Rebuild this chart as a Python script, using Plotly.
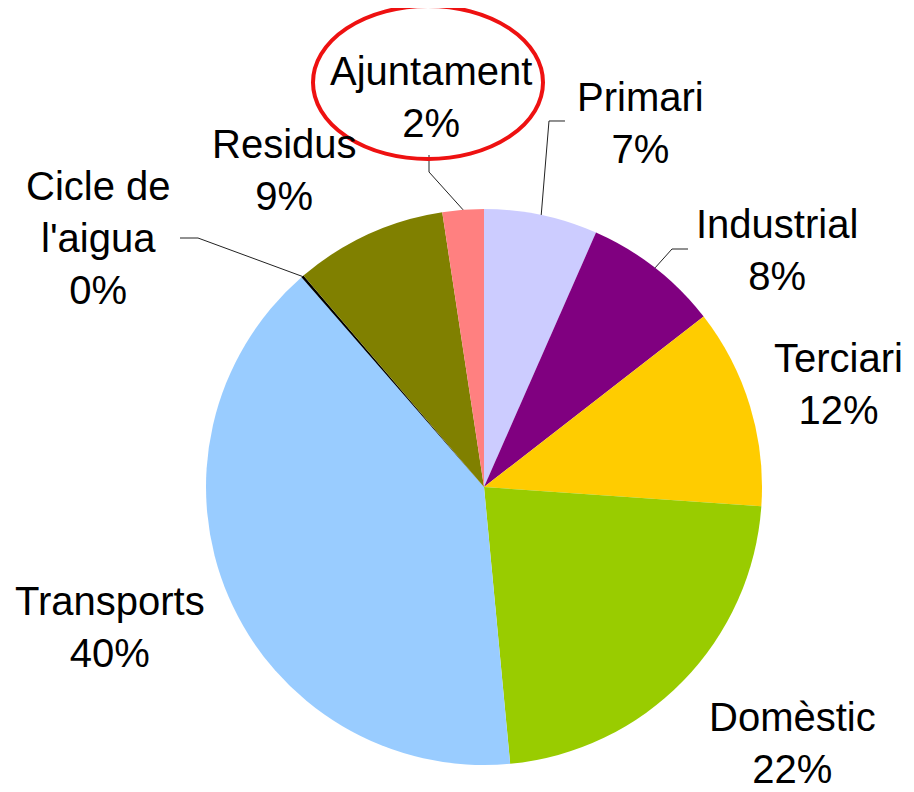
import math
import textwrap
import plotly.graph_objects as go

# ---- data ----
labels = ["Primari", "Industrial", "Terciari", "Domèstic", "Transports",
          "Cicle de l'aigua", "Residus", "Ajuntament"]
values = [6.6, 7.9, 11.6, 22.4, 40.1, 0.15, 8.85, 2.4]
colors = ["#CCCCFF", "#800080", "#FFCC00", "#99CC00", "#99CCFF",
          "#000000", "#808000", "#FF8080"]

# ---- layout constants (pixels in the 914x792 page) ----
PAGE_W, PAGE_H = 914, 792
OFF = 8                      # default body margin of the html page
W, H = PAGE_W - OFF, PAGE_H - OFF
CX, CY, R = 484, 487, 278
FONT = dict(family="Liberation Sans, Arial, sans-serif", size=40, color="black")

# label block centres (layout placement, page pixels)
label_pos = {
    "Primari": (640, 123),
    "Industrial": (777, 250),
    "Terciari": (838, 384),
    "Domèstic": (792, 743),
    "Transports": (110, 627),
    "Cicle de l'aigua": (98, 238),
    "Residus": (284, 170),
    "Ajuntament": (431, 97),
}
# leader line elbow points for labels that have them
leaders = {
    "Ajuntament": [(429, 155), (429, 172)],
    "Primari": [(565, 121), (549, 121)],
    "Industrial": [(688, 249), (672, 249)],
    "Cicle de l'aigua": [(180, 238), (198, 238)],
}


def px(x, y):
    """page pixel -> paper coordinate"""
    return (x - OFF) / W, 1 - (y - OFF) / H


dx0, dy1 = px(CX - R, CY - R)
dx1, dy0 = px(CX + R, CY + R)

fig = go.Figure(go.Pie(
    labels=labels, values=values, sort=False, direction="clockwise",
    rotation=0, marker=dict(colors=colors, line=dict(width=0)),
    textinfo="none", textposition="none", hoverinfo="label+percent",
    showlegend=False,
    domain=dict(x=[dx0, dx1], y=[dy0, dy1]),
))

total = sum(values)
annotations = []
shapes = []
cum = 0.0
for lab, v in zip(labels, values):
    frac = v / total
    mid = (cum + frac / 2) * 2 * math.pi
    cum += frac
    pct = round(frac * 100)
    text = "<br>".join(textwrap.wrap(lab, 10)) + f"<br>{pct}%"
    lx, ly = px(*label_pos[lab])
    annotations.append(dict(text=text, x=lx, y=ly, xref="paper", yref="paper",
                            xanchor="center", yanchor="middle", showarrow=False,
                            font=FONT, align="center"))
    if lab in leaders:
        ex, ey = CX + R * math.sin(mid), CY - R * math.cos(mid)
        pts = leaders[lab] + [(ex, ey)]
        path = "M " + " L ".join(f"{px(x, y)[0]:.5f},{px(x, y)[1]:.5f}" for x, y in pts)
        shapes.append(dict(type="path", path=path, xref="paper", yref="paper",
                           line=dict(color="#222222", width=1)))

# red highlight ellipse around the Ajuntament label
x0, y0 = px(313, 159)
x1, y1 = px(543, 6)
shapes.append(dict(type="circle", xref="paper", yref="paper",
                   x0=x0, y0=y0, x1=x1, y1=y1,
                   line=dict(color="#EE1111", width=4)))

fig.update_layout(
    width=W, height=H, margin=dict(l=0, r=0, t=0, b=0),
    paper_bgcolor="white", plot_bgcolor="white",
    annotations=annotations, shapes=shapes,
)
fig.write_html("out.html")
